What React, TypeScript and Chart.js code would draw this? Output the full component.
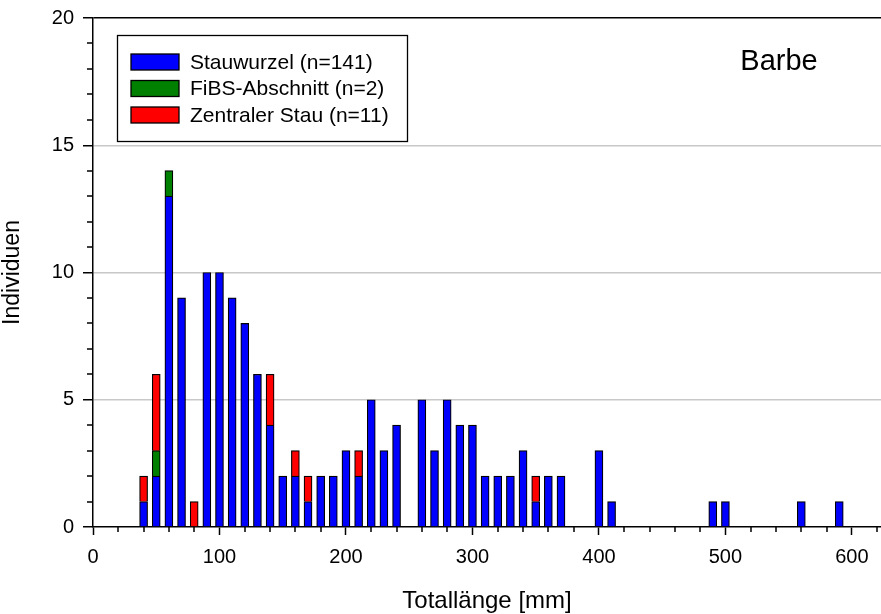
import React, { useEffect, useRef } from 'react';
import { Chart, registerables } from 'chart.js';

Chart.register(...registerables);

// Total length classes [mm]
const lengths = [40, 50, 60, 70, 80, 90, 100, 110, 120, 130, 140, 150, 160, 170, 180, 190, 200, 210, 220, 230, 240,
  260, 270, 280, 290, 300, 310, 320, 330, 340, 350, 360, 370, 400, 410, 490, 500, 560, 590];
const stauwurzel = [1, 2, 13, 9, 0, 10, 10, 9, 8, 6, 4, 2, 2, 1, 2, 2, 3, 2, 5, 3, 4,
  5, 3, 5, 4, 4, 2, 2, 2, 3, 1, 2, 2, 3, 1, 1, 1, 1, 1];
const fibs = [0, 1, 1, 0, 0, 0, 0, 0, 0, 0, 0, 0, 0, 0, 0, 0, 0, 0, 0, 0, 0,
  0, 0, 0, 0, 0, 0, 0, 0, 0, 0, 0, 0, 0, 0, 0, 0, 0, 0];
const zentral = [1, 3, 0, 0, 1, 0, 0, 0, 0, 0, 2, 0, 1, 1, 0, 0, 0, 1, 0, 0, 0,
  0, 0, 0, 0, 0, 0, 0, 0, 0, 1, 0, 0, 0, 0, 0, 0, 0, 0];

const seriesLabels = ['Stauwurzel (n=141)', 'FiBS-Abschnitt (n=2)', 'Zentraler Stau (n=11)'];
const seriesColors = ['#0000ff', '#008000', '#ff0000'];
const speciesLabel = 'Barbe';
const xTitle = 'Totallänge [mm]';
const yTitle = 'Individuen';

const FONT = '"Liberation Sans", Arial, sans-serif';

const toPoints = (vals: number[]) => lengths.map((x, i) => ({ x, y: vals[i] > 0 ? vals[i] : null }));

const minorTicks = {
  id: 'minorTicks',
  afterDraw(chart: any) {
    const { ctx, chartArea } = chart;
    const x = chart.scales.x;
    const y = chart.scales.y;
    ctx.save();
    ctx.strokeStyle = '#000';
    ctx.lineWidth = 1.5;
    ctx.beginPath();
    for (let v = 1; v < 20; v++) {
      if (v % 5 === 0) continue;
      const py = Math.round(y.getPixelForValue(v));
      ctx.moveTo(chartArea.left - 6, py);
      ctx.lineTo(chartArea.left, py);
    }
    for (let v = 20; v <= 620; v += 20) {
      if (v % 100 === 0) continue;
      const px = Math.round(x.getPixelForValue(v));
      ctx.moveTo(px, chartArea.bottom);
      ctx.lineTo(px, chartArea.bottom + 5);
    }
    ctx.stroke();
    ctx.restore();
  },
};

const boxLegend = {
  id: 'boxLegend',
  afterDraw(chart: any) {
    const { ctx } = chart;
    const left = 117;
    const top = 35;
    const w = 290;
    const h = 106;
    ctx.save();
    ctx.fillStyle = '#fff';
    ctx.fillRect(left, top, w, h);
    ctx.strokeStyle = '#000';
    ctx.lineWidth = 1.3;
    ctx.strokeRect(left + 0.5, top + 0.5, w, h);
    ctx.font = `21px ${FONT}`;
    ctx.textBaseline = 'middle';
    ctx.textAlign = 'left';
    chart.data.datasets.forEach((ds: any, i: number) => {
      const cy = top + 27 + i * 26.5;
      ctx.fillStyle = ds.backgroundColor;
      ctx.fillRect(left + 14, cy - 8, 48, 16);
      ctx.lineWidth = 1.3;
      ctx.strokeStyle = '#000';
      ctx.strokeRect(left + 14, cy - 8, 48, 16);
      ctx.fillStyle = '#000';
      ctx.fillText(ds.label, left + 73, cy + 1);
    });
    ctx.font = `29px ${FONT}`;
    ctx.textAlign = 'center';
    ctx.fillStyle = '#000';
    ctx.fillText(speciesLabel, 779, 62);
    ctx.restore();
  },
};

export default function App() {
  const ref = useRef<HTMLCanvasElement | null>(null);

  useEffect(() => {
    if (!ref.current) return;
    const datasets = [stauwurzel, fibs, zentral].map((vals, i) => ({
      label: seriesLabels[i],
      data: toPoints(vals),
      backgroundColor: seriesColors[i],
      borderColor: '#000',
      borderWidth: 1.2,
      barThickness: 8,
      stack: 's',
    }));
    const chart = new Chart(ref.current, {
      type: 'bar',
      data: { datasets } as any,
      options: {
        animation: false,
        responsive: false,
        devicePixelRatio: 1,
        layout: { padding: { top: 18, right: 0, left: 0, bottom: 0 } },
        plugins: { legend: { display: false }, tooltip: { enabled: false } },
        scales: {
          x: {
            type: 'linear',
            stacked: true,
            min: 0,
            max: 623,
            offset: false,
            grid: {
              display: true,
              offset: false,
              drawOnChartArea: false,
              drawTicks: true,
              tickLength: 8,
              tickColor: '#000',
              tickWidth: 1.5,
            },
            border: { display: true, color: '#000', width: 1.5 },
            ticks: {
              stepSize: 100,
              includeBounds: false,
              color: '#000',
              font: { family: FONT, size: 20 },
              padding: 10,
              maxRotation: 0,
              autoSkip: false,
            },
            title: {
              display: true,
              text: xTitle,
              color: '#000',
              font: { family: FONT, size: 24, lineHeight: 1.1 },
              padding: { top: 0, bottom: -1 },
            },
            afterFit: (s: any) => { s.height = 87; },
          },
          y: {
            stacked: true,
            min: 0,
            max: 20,
            grid: {
              color: (c: any) => (c.tick && c.tick.value === 20 ? '#000' : c.tick && c.tick.value === 0 ? 'rgba(0,0,0,0)' : '#c8c8c8'),
              lineWidth: 1.5,
              drawTicks: true,
              tickLength: 10,
              tickColor: '#000',
              tickWidth: 1.5,
            },
            border: { display: true, color: '#000', width: 1.5 },
            ticks: {
              stepSize: 5,
              color: '#000',
              font: { family: FONT, size: 20, lineHeight: 0.8 },
              padding: 9,
            },
            title: {
              display: true,
              text: yTitle,
              color: '#000',
              font: { family: FONT, size: 23, lineHeight: 1.1 },
              padding: 0,
            },
            afterFit: (s: any) => { s.width = 93; },
          },
        },
      } as any,
      plugins: [minorTicks, boxLegend],
    });
    return () => chart.destroy();
  }, []);

  return (
    <div style={{ position: 'absolute', left: 0, top: 0, width: 881, height: 614, background: '#fff' }}>
      <canvas ref={ref} width={881} height={614} style={{ display: 'block' }} />
    </div>
  );
}
